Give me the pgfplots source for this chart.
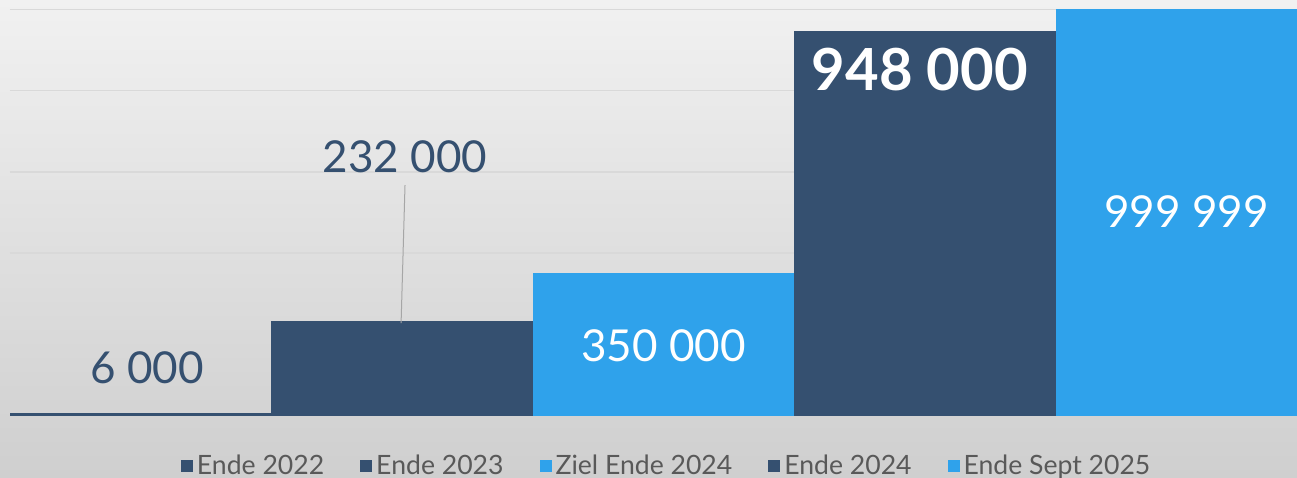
\documentclass[border=0pt]{standalone}
\usepackage{fontspec}
\setmainfont{Lato}
\usepackage{pgfplots}
\pgfplotsset{compat=1.18}
\definecolor{darkbar}{HTML}{355070}
\definecolor{lightbar}{HTML}{2FA2EB}
\definecolor{gridc}{HTML}{D9D9D9}
\definecolor{legtext}{HTML}{595959}
\definecolor{bgtop}{HTML}{F1F1F1}
\definecolor{bgbot}{HTML}{CFCFCF}
\pgfplotsset{sq/.style={legend image code/.code={\fill[##1,draw=none] (0pt,-3pt) rectangle (6pt,3pt);}}}
\begin{document}
\begin{tikzpicture}
\shade[top color=bgtop, bottom color=bgbot] (0,0) rectangle (648.5pt,238.5pt);
\useasboundingbox (0,0) rectangle (648.5pt,238.5pt);
\begin{axis}[
  at={(5pt,30.75pt)}, anchor=south west,
  scale only axis, width=643.5pt, height=203pt,
  xmin=-0.5, xmax=4.423, ymin=0, ymax=1000000,
  ybar, bar width=1,
  axis line style={draw=none},
  xtick=\empty,
  ytick={0,200000,400000,600000,800000,1000000},
  yticklabels=\empty,
  major tick length=0pt,
  ymajorgrids, grid style={draw=gridc, line width=0.7pt},
  legend columns=5,
  legend style={at={(0.511,-0.125)}, anchor=center, draw=none, fill=none,
    font=\fontsize{13.3}{14}\selectfont, text=legtext,
    /tikz/every even column/.append style={column sep=16pt}},
]
\addplot[fill=darkbar, draw=none, bar shift=0pt, sq] coordinates {(0,6000)};
\addlegendentry{Ende 2022}
\addplot[fill=darkbar, draw=none, bar shift=0pt, sq] coordinates {(1,232000)};
\addlegendentry{Ende 2023}
\addplot[fill=lightbar, draw=none, bar shift=0pt, sq] coordinates {(2,350000)};
\addlegendentry{Ziel Ende 2024}
\addplot[fill=darkbar, draw=none, bar shift=0pt, sq] coordinates {(3,948000)};
\addlegendentry{Ende 2024}
\addplot[fill=lightbar, draw=none, bar shift=0pt, sq] coordinates {(4,999999)};
\addlegendentry{Ende Sept 2025}
\draw[color=gray!70, line width=0.5pt] (axis cs:1.011,567700) -- (axis cs:0.996,227800);
\node[text=darkbar, font=\fontsize{22}{24}\selectfont] at (axis cs:0.025,117000) {6 000};
\node[text=darkbar, font=\fontsize{22}{24}\selectfont] at (axis cs:1.011,636700) {232 000};
\node[text=white, font=\fontsize{22}{24}\selectfont] at (axis cs:2,171200) {350 000};
\node[text=white, font=\fontsize{29}{31}\selectfont\bfseries] at (axis cs:2.98,851000) {948 000};
\node[text=white, font=\fontsize{22}{24}\selectfont] at (axis cs:4,501200) {999 999};
\end{axis}
\end{tikzpicture}
\end{document}
